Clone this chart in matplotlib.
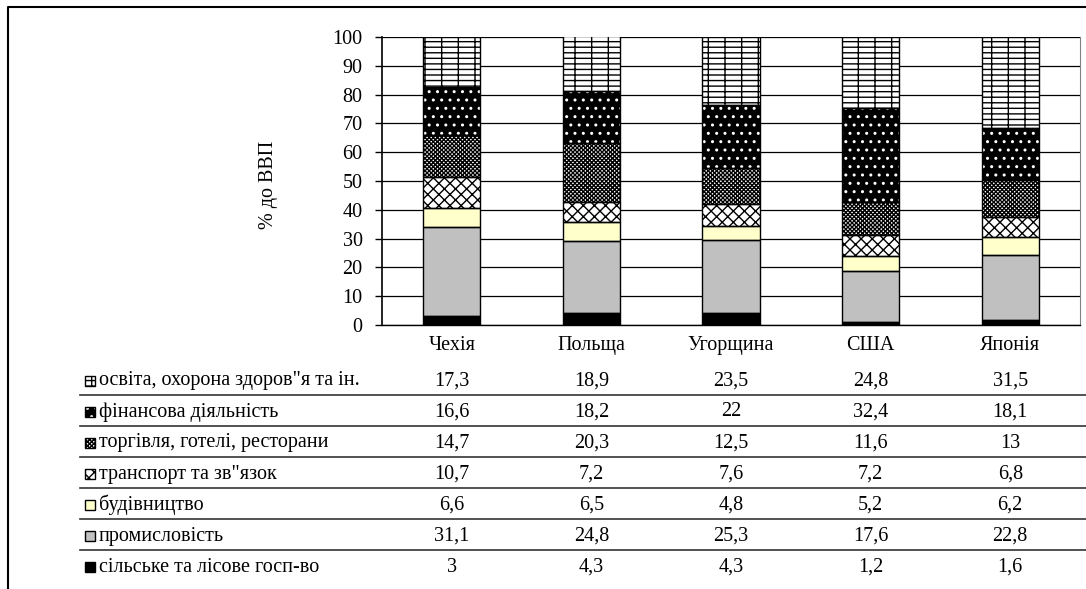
import matplotlib.pyplot as plt
import matplotlib.transforms as mtransforms
from matplotlib.patches import Rectangle
from matplotlib.lines import Line2D
import numpy as np

plt.rcParams['font.family'] = ['Liberation Serif', 'DejaVu Serif']
plt.rcParams['hatch.linewidth'] = 1.0

categories = ['Чехія', 'Польща', 'Угорщина', 'США', 'Японія']

# rows of the data table, top to bottom
labels = ['освіта, охорона здоров"я та ін.', 'фінансова діяльність',
          'торгівля, готелі, ресторани', 'транспорт та зв"язок',
          'будівництво', 'промисловість', 'сільське та лісове госп-во']
osvita = [17.3, 18.9, 23.5, 24.8, 31.5]
finansy = [16.6, 18.2, 22, 32.4, 18.1]
torhivlia = [14.7, 20.3, 12.5, 11.6, 13]
transport = [10.7, 7.2, 7.6, 7.2, 6.8]
budivnytstvo = [6.6, 6.5, 4.8, 5.2, 6.2]
promyslovist = [31.1, 24.8, 25.3, 17.6, 22.8]
silske = [3, 4.3, 4.3, 1.2, 1.6]
series = [osvita, finansy, torhivlia, transport, budivnytstvo, promyslovist, silske]

# face colour, hatch, hatch colour
styles = [('white', '---|', 'black'),
          ('black', '..', 'white'),
          ('white', 'xxxxxxxx', 'black'),
          ('white', 'xxx', 'black'),
          ('#FFFFCC', None, None),
          ('#C0C0C0', None, None),
          ('black', None, None)]

FS = 14.5
W, H = 1086, 589
def fx(p):
    return p / W
def fy(p):
    return 1 - p / H

fig = plt.figure(figsize=(W / 100, H / 100), dpi=100)
ax = fig.add_axes([fx(382), fy(325), fx(1080) - fx(382), fy(37) - fy(325)])

x = np.arange(len(categories))
bottom = np.zeros(len(categories))
for vals, (face, hatch, hcol) in reversed(list(zip(series, styles))):
    vals = np.array(vals, dtype=float)
    ax.bar(x, vals, 0.41, bottom=bottom, color=face, edgecolor='none', zorder=2)
    if hatch:
        ax.bar(x, vals, 0.41, bottom=bottom, fill=False, hatch=hatch,
               edgecolor=hcol, linewidth=0, zorder=3)
    ax.bar(x, vals, 0.41, bottom=bottom, fill=False, edgecolor='black',
           linewidth=1, zorder=4)
    bottom += vals

ax.set_xlim(-0.5, len(categories) - 0.5)
ax.set_ylim(0, 100)
ax.set_yticks(range(0, 101, 10))
ax.set_xticks(x)
ax.set_xticklabels(categories, fontsize=FS)
ax.tick_params(axis='x', length=0, pad=8)
ax.tick_params(axis='y', length=5, width=1, pad=9, labelsize=FS, direction='out')
ax.yaxis.grid(True, color='black', linewidth=0.9)
ax.set_axisbelow(True)
ax.spines['top'].set_visible(False)
ax.spines['right'].set_color('#808080')
ax.spines['left'].set_linewidth(1.2)
ax.spines['bottom'].set_linewidth(1)

fig.text(fx(268), fy(185), '% до ВВП', rotation=90, ha='center', va='center', fontsize=FS)

# data table under the chart
T = mtransforms.blended_transform_factory(ax.transData, fig.transFigure)
row_y = [381 + 31 * i for i in range(len(labels))]
for i, (lab, vals, (face, hatch, hcol)) in enumerate(zip(labels, series, styles)):
    yc = row_y[i]
    fig.text(fx(99), fy(yc), lab, ha='left', va='center', fontsize=FS)
    box = (fx(85), fy(yc + 5)), fx(10), fy(yc - 5) - fy(yc + 5)
    fig.add_artist(Rectangle(*box, transform=fig.transFigure, facecolor=face, edgecolor='none'))
    if hatch:
        fig.add_artist(Rectangle(*box, transform=fig.transFigure, fill=False, hatch=hatch,
                                 edgecolor=hcol, linewidth=0))
    fig.add_artist(Rectangle(*box, transform=fig.transFigure, fill=False, edgecolor='black',
                             linewidth=1))
    for j, v in enumerate(vals):
        ax.text(x[j], fy(yc), f'{v:g}'.replace('.', ','), transform=T,
                ha='center', va='center', fontsize=FS, clip_on=False)
    if i < len(labels) - 1:
        fig.add_artist(Line2D([fx(80), fx(1086)], [fy(yc + 14), fy(yc + 14)],
                              transform=fig.transFigure, color='#333333', linewidth=1.2))

# outer chart frame
fig.add_artist(Line2D([fx(8), fx(8), fx(1086)], [fy(589), fy(7), fy(7)],
                      transform=fig.transFigure, color='black', linewidth=1.5))

fig.savefig('out.png', dpi=100)
